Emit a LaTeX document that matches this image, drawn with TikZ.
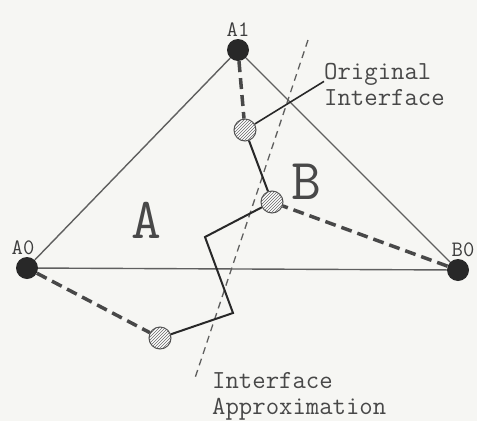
\documentclass[tikz,border=0pt]{standalone}
\usepackage{fontspec}
\usetikzlibrary{positioning, patterns}

\definecolor{paper}{RGB}{246,246,243}
\definecolor{ink}{RGB}{40,40,40}
\definecolor{edgegray}{RGB}{95,95,95}

\tikzset{
  vertex/.style={circle, fill=ink, minimum size=22pt, inner sep=0pt},
  probe/.style={circle, draw=ink!80, line width=1pt, minimum size=22pt, inner sep=0pt,
    preaction={fill=white}, pattern=north east lines, pattern color=ink!70},
  tag/.style={font=\ttfamily\fontsize{22}{24}\selectfont, text=ink!90, inner sep=1pt},
  note/.style={font=\ttfamily\fontsize{26}{26}\selectfont, text=ink!85, align=left, inner sep=0pt},
  region/.style={font=\ttfamily\fontsize{58}{60}\selectfont, text=ink!85},
  side/.style={draw=edgegray, line width=1.4pt},
  tie/.style={draw=ink!85, line width=3.5pt, dash pattern=on 11pt off 6pt},
  guide/.style={draw=edgegray, line width=1.3pt, dash pattern=on 7pt off 5pt},
  trace/.style={draw=ink, line width=2pt}
}

\begin{document}
\begin{tikzpicture}[x=1pt, y=-1pt]
  \fill[paper] (0,0) rectangle (477,421);
  \useasboundingbox (0,0) rectangle (477,421);

  % corners of the cell
  \node[vertex] (A1) at (238,50) {};
  \node[vertex] (A0) at (27,268) {};
  \node[vertex] (B0) at (458,270) {};
  \node[tag, above=1pt of A1] {A1};
  \node[tag, above=1pt of A0, xshift=-4pt] {A0};
  \node[tag, above=1pt of B0, xshift=5pt] {B0};

  \draw[side] (A0) -- (A1);
  \draw[side] (A1) -- (B0);
  \draw[side] (A0) -- (B0);

  % straight approximation
  \coordinate (G1) at (308,40);
  \coordinate (G2) at (195,378);
  \draw[guide] (G1) -- (G2);

  % crossing points on the edges
  \node[probe] (C1) at (245,130) {};
  \node[probe] (C2) at (272,202) {};
  \node[probe] (C3) at (160,338) {};
  \coordinate (K1) at (205,237);
  \coordinate (K2) at (233,313);

  \draw[tie] (A1) -- (C1);
  \draw[tie] (B0) -- (C2);
  \draw[tie] (A0) -- (C3);
  \draw[trace] (C1) -- (C2) -- (K1) -- (K2) -- (C3);

  \node[region] (A) at (146,220) {A};
  \node[region] (B) at (306,182) {B};

  \node[note, anchor=north west] (orig) at (324,63) {Original\\Interface};
  \draw[ink, line width=1.6pt] (C1) -- ([yshift=3pt]orig.west);
  \node[note, anchor=north west] (approx) at (212,372) {Interface\\Approximation};
\end{tikzpicture}
\end{document}
